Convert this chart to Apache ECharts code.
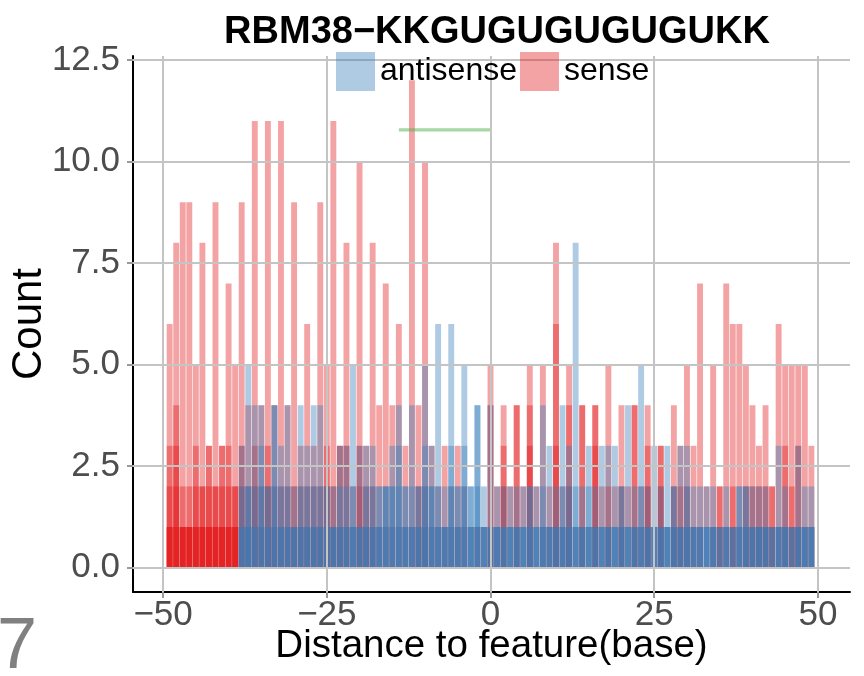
<!DOCTYPE html>
<html><head><meta charset="utf-8">
<script src="https://cdn.jsdelivr.net/npm/echarts@6/dist/echarts.min.js"></script>
<style>html,body{margin:0;padding:0;background:#fff}#c{width:864px;height:676px}</style>
</head><body><div id="c"></div>
<script>
// distance to feature (base), one bar per position
const positions = [-49,-48,-47,-46,-45,-44,-43,-42,-41,-40,-39,
 -38,-37,-36,-35,-34,-33,-32,-31,-30,-29,
 -28,-27,-26,-25,-24,-23,-22,-21,-20,-19,
 -18,-17,-16,-15,-14,-13,-12,-11,-10,-9,
 -8,-7,-6,-5,-4,-3,-2,-1,
 0,1,2,3,4,5,6,7,8,9,
 10,11,12,13,14,15,16,17,18,19,
 20,21,22,23,24,25,26,27,28,29,
 30,31,32,33,34,35,36,37,38,39,
 40,41,42,43,44,45,46,47,48,49];

// sense: overlapping count layers (drawn with identity position, alpha)
const senseLayer1 = [6,8,9,9,5,8,3,9,3,7,5,
 9,4,11,4,11,4,11,4,9,3,
 6,3,9,5,11,3,8,2,10,3,
 8,4,7,4,6,3,12,4,10,3,
 2,3,2,3,2,1,1,1,
 5,2,4,2,4,2,5,2,5,2,
 8,2,5,1,4,1,4,2,5,2,
 4,2,4,2,4,1,3,1,4,3,
 5,3,7,2,5,2,7,6,6,5,
 4,3,4,2,6,5,5,5,5,3];
const senseLayer2 = [3,4,2,2,3,2,3,2,3,3,2,
 3,2,3,2,3,2,2,2,2,2,
 2,2,2,3,2,3,3,1,3,2,
 2,1,1,1,1,1,1,2,2,1,
 1,1,1,1,1,0,1,0,
 4,1,3,0,4,0,4,0,1,1,
 6,1,4,0,4,0,4,0,2,0,
 2,0,4,1,3,0,3,0,2,2,
 2,1,1,0,1,2,1,2,1,2,
 2,2,2,2,1,3,2,3,1,1];
const senseLayer3 = [2,3,1,1,2,2,2,2,2,2,2,
 2,1,2,1,2,1,1,1,1,1,
 1,1,1,2,1,1,1,0,2,1,
 1,0,0,0,0,0,0,1,1,0,
 0,0,0,0,0,0,0,0,
 1,0,2,0,1,0,3,0,0,0,
 3,0,2,0,1,0,3,0,1,0,
 1,0,1,0,2,0,2,0,1,1,
 1,0,0,0,0,1,0,1,0,1,
 1,1,1,1,0,1,1,1,0,0];
const senseLayer4 = [1,2,1,1,1,1,1,1,1,1,1,
 1,0,1,0,1,0,0,0,0,0,
 0,0,0,1,0,0,0,0,1,0,
 0,0,0,0,0,0,0,0,0,0,
 0,0,0,0,0,0,0,0,
 0,0,0,0,0,0,1,0,0,0,
 1,0,1,0,0,0,1,0,0,0,
 0,0,0,0,1,0,1,0,0,0,
 0,0,0,0,0,0,0,0,0,0,
 0,0,0,0,0,0,0,0,0,0];
const senseLayer5 = [1,1,1,1,1,1,1,1,1,1,1,
 0,0,0,0,0,0,0,0,0,0,
 0,0,0,0,0,0,0,0,0,0,
 0,0,0,0,0,0,0,0,0,0,
 0,0,0,0,0,0,0,0,
 0,0,0,0,0,0,0,0,0,0,
 0,0,0,0,0,0,0,0,0,0,
 0,0,0,0,0,0,0,0,0,0,
 0,0,0,0,0,0,0,0,0,0,
 0,0,0,0,0,0,0,0,0,0];
const senseLayer6 = [1,1,1,1,1,1,1,1,1,1,1,
 0,0,0,0,0,0,0,0,0,0,
 0,0,0,0,0,0,0,0,0,0,
 0,0,0,0,0,0,0,0,0,0,
 0,0,0,0,0,0,0,0,
 0,0,0,0,0,0,0,0,0,0,
 0,0,0,0,0,0,0,0,0,0,
 0,0,0,0,0,0,0,0,0,0,
 0,0,0,0,0,0,0,0,0,0,
 0,0,0,0,0,0,0,0,0,0];

// antisense layers
const antisenseLayer1 = [0,0,0,0,0,0,0,0,0,0,0,
 3,5,4,4,2,4,3,4,2,4,
 3,4,4,2,2,3,3,5,3,3,
 3,2,2,3,4,2,4,2,5,3,
 6,2,6,2,5,2,4,2,
 4,2,2,2,2,2,2,2,4,3,
 2,4,3,8,2,3,2,3,3,3,
 2,4,2,5,2,3,2,3,2,3,
 3,2,2,2,2,1,2,1,2,2,
 2,2,2,1,3,2,1,3,2,2];
const antisenseLayer2 = [0,0,0,0,0,0,0,0,0,0,0,
 2,2,2,3,2,4,2,2,1,2,
 2,2,2,2,1,2,2,2,1,2,
 2,2,2,2,3,2,2,2,3,2,
 2,1,3,2,3,2,4,1,
 1,1,1,1,1,1,2,1,2,1,
 1,2,2,2,1,2,1,1,1,1,
 2,1,1,2,1,1,1,1,2,1,
 2,1,1,1,1,1,1,1,2,2,
 1,1,1,1,1,1,1,1,1,1];
const antisenseLayer3 = [0,0,0,0,0,0,0,0,0,0,0,
 1,2,1,2,1,2,1,1,1,1,
 1,1,1,1,1,1,1,1,1,1,
 1,1,2,2,2,1,1,1,2,2,
 1,1,2,1,2,1,2,1,
 1,1,1,1,1,1,1,1,1,1,
 1,1,1,1,1,1,1,1,1,1,
 1,1,1,1,1,1,1,1,1,1,
 1,1,1,1,1,1,1,1,1,1,
 1,1,1,1,1,1,1,1,1,1];
const antisenseLayer4 = [0,0,0,0,0,0,0,0,0,0,0,
 1,1,1,1,1,1,1,1,1,1,
 1,1,1,1,1,1,1,1,1,1,
 1,1,1,1,1,1,1,1,1,1,
 1,1,1,1,1,1,1,1,
 1,1,1,1,1,1,1,1,1,1,
 1,1,1,1,1,1,1,1,1,1,
 1,1,1,1,1,1,1,1,1,1,
 1,1,1,1,1,0,1,0,1,1,
 1,1,1,0,1,1,0,1,1,1];
const antisenseLayer5 = [0,0,0,0,0,0,0,0,0,0,0,
 0,1,0,0,0,0,0,0,0,0,
 0,0,0,0,0,0,0,0,0,0,
 0,0,0,0,0,0,0,0,0,0,
 0,0,0,0,0,0,0,0,
 0,0,0,0,0,0,0,0,0,0,
 0,0,0,0,0,0,0,0,0,0,
 0,0,0,0,0,0,0,0,0,0,
 0,0,0,0,0,0,0,0,0,0,
 0,0,0,0,0,0,0,0,0,0];

// feature segment (green line)
const featureX = [-14, 0];
const featureY = [10.78, 10.78];

const xTicks = [-50, -25, 0, 25, 50];
const yTicks = [0, 2.5, 5, 7.5, 10, 12.5];

const FONT = '"Liberation Sans", Arial, Helvetica, sans-serif';
const SENSE = 'rgba(228,26,28,0.4)';
const ANTI = 'rgba(55,126,184,0.4)';

function layerSeries(name, color, arr) {
  return {
    type: 'bar', name: name,
    data: positions.map((x, i) => [x, arr[i]]).filter(d => d[1] > 0),
    barWidth: 5.9, barGap: '-100%',
    itemStyle: { color: color },
    z: 2, silent: true, animation: false
  };
}

const series = [
  {
    type: 'line', name: 'grid', data: [], z: 1, silent: true, animation: false,
    markLine: {
      silent: true, animation: false, symbol: ['none', 'none'],
      label: { show: false },
      lineStyle: { color: '#C4C4C4', width: 2, type: 'solid' },
      emphasis: { disabled: true },
      data: xTicks.map(v => ({ xAxis: v })).concat(yTicks.map(v => ({ yAxis: v })))
    }
  },
  layerSeries('sense', SENSE, senseLayer1),
  layerSeries('sense', SENSE, senseLayer2),
  layerSeries('sense', SENSE, senseLayer3),
  layerSeries('sense', SENSE, senseLayer4),
  layerSeries('sense', SENSE, senseLayer5),
  layerSeries('sense', SENSE, senseLayer6),
  layerSeries('antisense', ANTI, antisenseLayer1),
  layerSeries('antisense', ANTI, antisenseLayer2),
  layerSeries('antisense', ANTI, antisenseLayer3),
  layerSeries('antisense', ANTI, antisenseLayer4),
  layerSeries('antisense', ANTI, antisenseLayer5),
  {
    type: 'line', name: 'feature', z: 3, silent: true, animation: false,
    data: featureX.map((x, i) => [x, featureY[i]]),
    symbol: 'none',
    lineStyle: { color: 'rgba(77,175,74,0.5)', width: 3.3 }
  }
];

const chart = echarts.init(document.getElementById('c'), null, { renderer: 'canvas' });
chart.setOption({
  animation: false,
  backgroundColor: '#fff',
  textStyle: { fontFamily: FONT },
  title: {
    text: 'RBM38\u2212KKGUGUGUGUGUKK',
    left: 492, top: 9, textAlign: 'center',
    textStyle: { fontSize: 38, fontWeight: 'bold', color: '#000', fontFamily: FONT }
  },
  legend: {
    data: ['antisense', 'sense'],
    left: 331, top: 47, z: 10,
    icon: 'rect', itemWidth: 39, itemHeight: 39, itemGap: 3,
    selectedMode: false,
    textStyle: { fontSize: 32, color: '#000', fontFamily: FONT }
  },
  grid: { left: 133, right: 14, top: 56, bottom: 84, containLabel: false, outerBoundsMode: 'none' },
  xAxis: {
    type: 'value', min: -54.6, max: 54.9,
    splitLine: { show: false },
    axisLine: { show: true, onZero: false, lineStyle: { color: '#000', width: 2 } },
    axisTick: { show: true, customValues: xTicks, length: 6, lineStyle: { color: '#999', width: 2 } },
    axisLabel: {
      customValues: xTicks, fontSize: 35, color: '#4D4D4D', margin: 6, fontFamily: FONT,
      formatter: v => (v < 0 ? '\u2212' + Math.abs(v) : String(v))
    },
    name: 'Distance to feature(base)', nameLocation: 'middle', nameGap: 35, nameMoveOverlap: false,
    nameTextStyle: { fontSize: 38.5, color: '#000', fontFamily: FONT }
  },
  yAxis: {
    type: 'value', min: -0.6, max: 12.6,
    splitLine: { show: false },
    axisLine: { show: true, onZero: false, lineStyle: { color: '#000', width: 2 } },
    axisTick: { show: true, customValues: yTicks, length: 6, lineStyle: { color: '#999', width: 2 } },
    axisLabel: {
      customValues: yTicks, fontSize: 35, color: '#4D4D4D', margin: 13, fontFamily: FONT,
      formatter: v => v.toFixed(1)
    },
    name: 'Count', nameLocation: 'middle', nameGap: 83, nameRotate: 90, nameMoveOverlap: false,
    nameTextStyle: { fontSize: 42, color: '#000', fontFamily: FONT }
  },
  graphic: [
    { type: 'text', left: -3, top: 612, silent: true,
      style: { text: '7', fontSize: 72, fill: '#808080', fontFamily: FONT } }
  ],
  series: series
});
</script></body></html>
